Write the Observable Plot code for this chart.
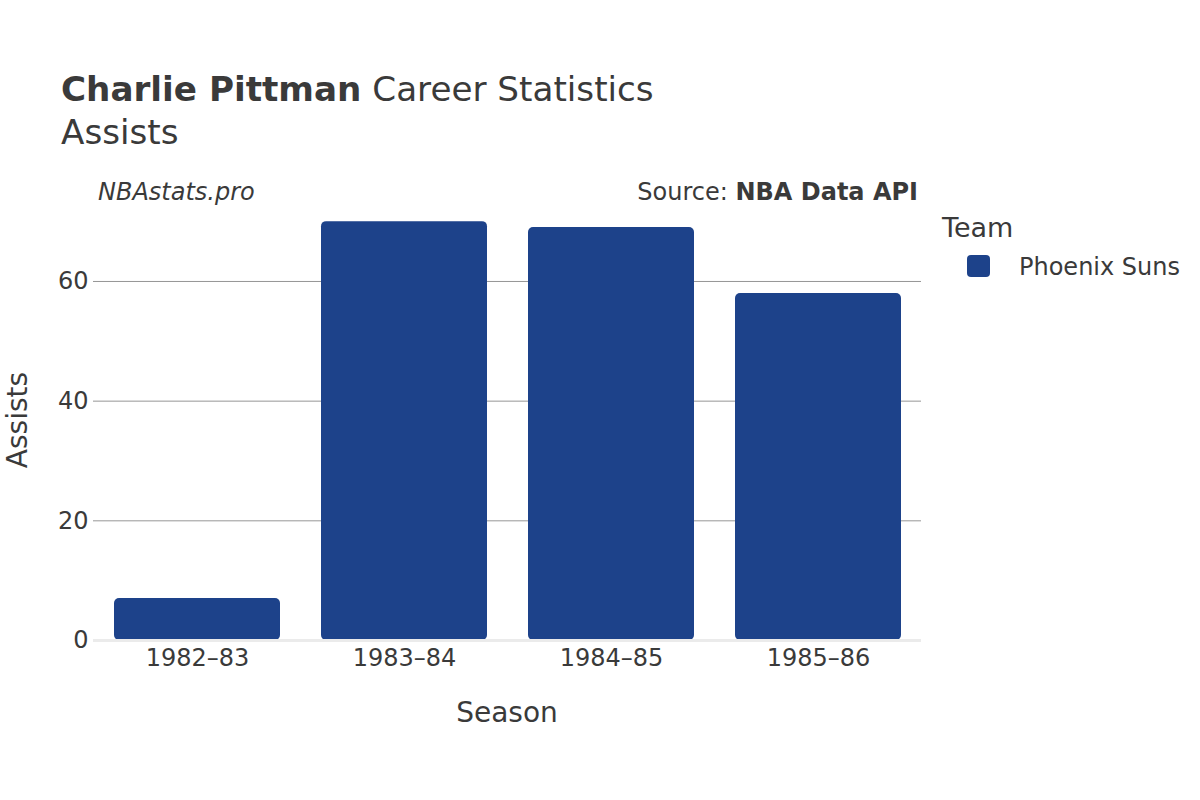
<!DOCTYPE html>
<html><head><meta charset="utf-8">
<script src="https://cdn.jsdelivr.net/npm/d3@7"></script>
<script src="https://cdn.jsdelivr.net/npm/@observablehq/plot@0.6"></script>
<style>
body{margin:0;background:#fff;}
#wrap{position:relative;width:1200px;height:800px;font-family:"DejaVu Sans",sans-serif;}
#chart,#overlay{position:absolute;left:0;top:0;}
#overlay{pointer-events:none;}
</style></head><body>
<div id="wrap"><div id="chart"></div>
<svg id="overlay" width="1200" height="800" font-family="DejaVu Sans" fill="#3a3a3a">
  <text x="61" y="101" font-size="34.2"><tspan font-weight="bold">Charlie Pittman</tspan> Career Statistics</text>
  <text x="61" y="144" font-size="34.2">Assists</text>
  <text x="98" y="200" font-size="24" font-style="italic">NBAstats.pro</text>
  <text x="918" y="200" font-size="24" text-anchor="end">Source: <tspan font-weight="bold">NBA Data API</tspan></text>
  <text x="942" y="237" font-size="27">Team</text>
  <rect x="967" y="255" width="23" height="22" rx="4" fill="#1d428a"></rect>
  <text x="1019" y="275" font-size="24">Phoenix Suns</text>
  <text x="507" y="722" font-size="28" text-anchor="middle">Season</text>
  <text transform="translate(27,420) rotate(-90)" font-size="28" text-anchor="middle">Assists</text>
</svg>
</div>
<script>
const seasons = ["1982–83", "1983–84", "1984–85", "1985–86"];
const assists = [7, 70, 69, 58];
const teams = ["Phoenix Suns", "Phoenix Suns", "Phoenix Suns", "Phoenix Suns"];
const yTicks = [0, 20, 40, 60];
const teamColors = {"Phoenix Suns": "#1d428a"};

const data = seasons.map((s, i) => ({season: s, assists: assists[i], team: teams[i]}));

const chart = Plot.plot({
  width: 1200, height: 800,
  marginLeft: 93, marginRight: 279, marginTop: 199, marginBottom: 160,
  style: {fontFamily: "DejaVu Sans", fontSize: "24px", color: "#3a3a3a", background: "transparent"},
  x: {domain: seasons, paddingInner: 0.2, paddingOuter: 0.1, label: null},
  y: {domain: [0, 73.7], label: null},
  color: {domain: Object.keys(teamColors), range: Object.values(teamColors)},
  marks: [
    Plot.gridY(yTicks.filter(d => d > 0), {stroke: "#969696", strokeOpacity: 1, strokeWidth: 1}),
    Plot.barY(data, {x: "season", y: "assists", fill: "team", rx: 5}),
    Plot.ruleY([0], {stroke: "#ebebeb", strokeWidth: 3}),
    Plot.axisY(yTicks, {tickSize: 0, tickPadding: 5, fontSize: 24, fill: "#3a3a3a"}),
    Plot.axisX({tickSize: 0, tickPadding: 8, fontSize: 24, fill: "#3a3a3a"})
  ]
});
document.getElementById("chart").appendChild(chart);
</script>
</body></html>
